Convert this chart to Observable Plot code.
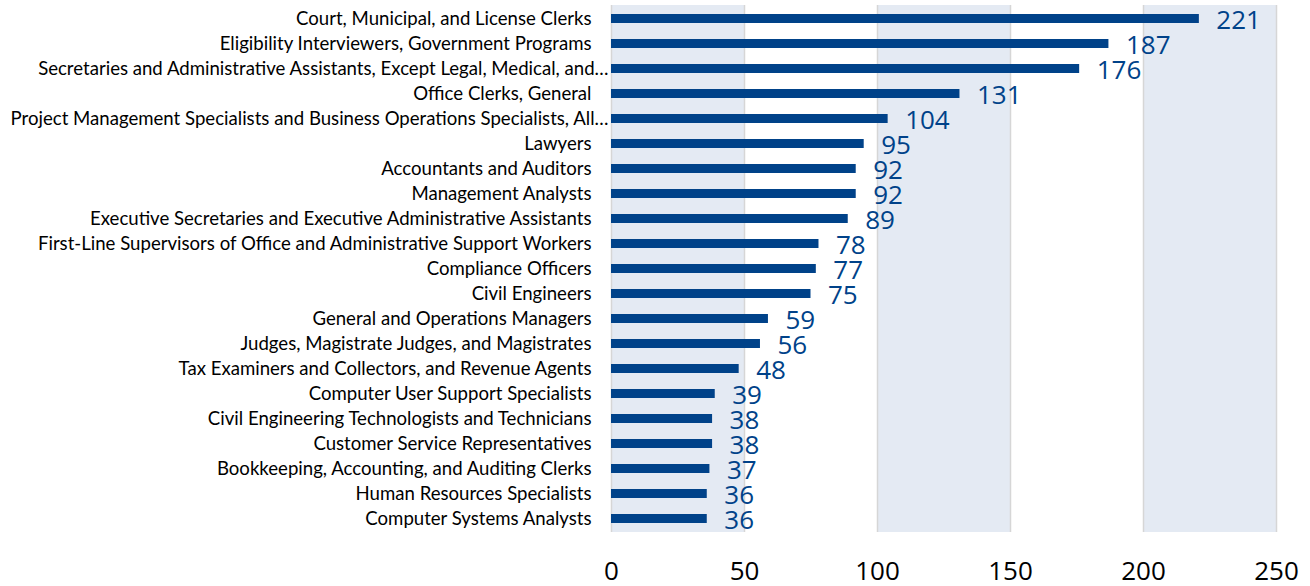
<!DOCTYPE html>
<html>
<head>
<meta charset="utf-8">
<script src="https://cdn.jsdelivr.net/npm/d3@7"></script>
<script src="https://cdn.jsdelivr.net/npm/@observablehq/plot@0.6"></script>
<style>
  html, body { margin: 0; padding: 0; background: #fff; }
  #chart svg { display: block; }
</style>
</head>
<body>
<div id="chart"></div>
<script>
const occupations = [
  "Court, Municipal, and License Clerks",
  "Eligibility Interviewers, Government Programs",
  "Secretaries and Administrative Assistants, Except Legal, Medical, and…",
  "Office Clerks, General",
  "Project Management Specialists and Business Operations Specialists, All…",
  "Lawyers",
  "Accountants and Auditors",
  "Management Analysts",
  "Executive Secretaries and Executive Administrative Assistants",
  "First-Line Supervisors of Office and Administrative Support Workers",
  "Compliance Officers",
  "Civil Engineers",
  "General and Operations Managers",
  "Judges, Magistrate Judges, and Magistrates",
  "Tax Examiners and Collectors, and Revenue Agents",
  "Computer User Support Specialists",
  "Civil Engineering Technologists and Technicians",
  "Customer Service Representatives",
  "Bookkeeping, Accounting, and Auditing Clerks",
  "Human Resources Specialists",
  "Computer Systems Analysts"
];
const counts = [221, 187, 176, 131, 104, 95, 92, 92, 89, 78, 77, 75, 59, 56, 48, 39, 38, 38, 37, 36, 36];
const xTicks = [0, 50, 100, 150, 200, 250];
const shadedBandStarts = [0, 100, 200];
const shadedBandEnds = [50, 150, 250];

const data = occupations.map((name, i) => ({name, value: counts[i]}));
const bands = shadedBandStarts.map((s, i) => ({x1: s, x2: shadedBandEnds[i]}));
const truncated = occupations.filter(d => d.endsWith("…"));
const full = occupations.filter(d => !d.endsWith("…"));

const blue = "#004289";
const labelFont = {fontSize: 18.6, fontFamily: "Lato, 'Open Sans', sans-serif", fill: "#000"};

const chart = Plot.plot({
  width: 1310,
  height: 586,
  marginLeft: 611,
  marginRight: 34,
  marginTop: 5,
  marginBottom: 54,
  style: {fontFamily: "Lato, 'Open Sans', sans-serif", background: "#fff"},
  x: {domain: [0, 250], ticks: xTicks},
  y: {domain: occupations, paddingInner: 0.64, paddingOuter: 0.32, align: 0.5},
  marks: [
    Plot.rectX(bands, {x1: "x1", x2: "x2", fill: "#e4eaf3"}),
    Plot.ruleX(xTicks, {stroke: "#d6d6d6", strokeWidth: 1.5}),
    Plot.barX(data, {y: "name", x: "value", fill: blue}),
    Plot.text(data, {
      y: "name", x: "value", text: d => String(d.value),
      textAnchor: "start", dx: 17, dy: 2, fill: blue,
      fontSize: 26, fontFamily: "'Open Sans', sans-serif"
    }),
    Plot.axisY(full, {tickSize: 0, tickPadding: 20, label: null, ...labelFont}),
    Plot.axisY(truncated, {tickSize: 0, tickPadding: 3, label: null, ...labelFont}),
    Plot.axisX({ticks: xTicks, tickSize: 0, tickPadding: 29, fontSize: 26, label: null,
      fontFamily: "'Open Sans', sans-serif", fill: "#000"})
  ]
});
document.getElementById("chart").appendChild(chart);
</script>
</body>
</html>
